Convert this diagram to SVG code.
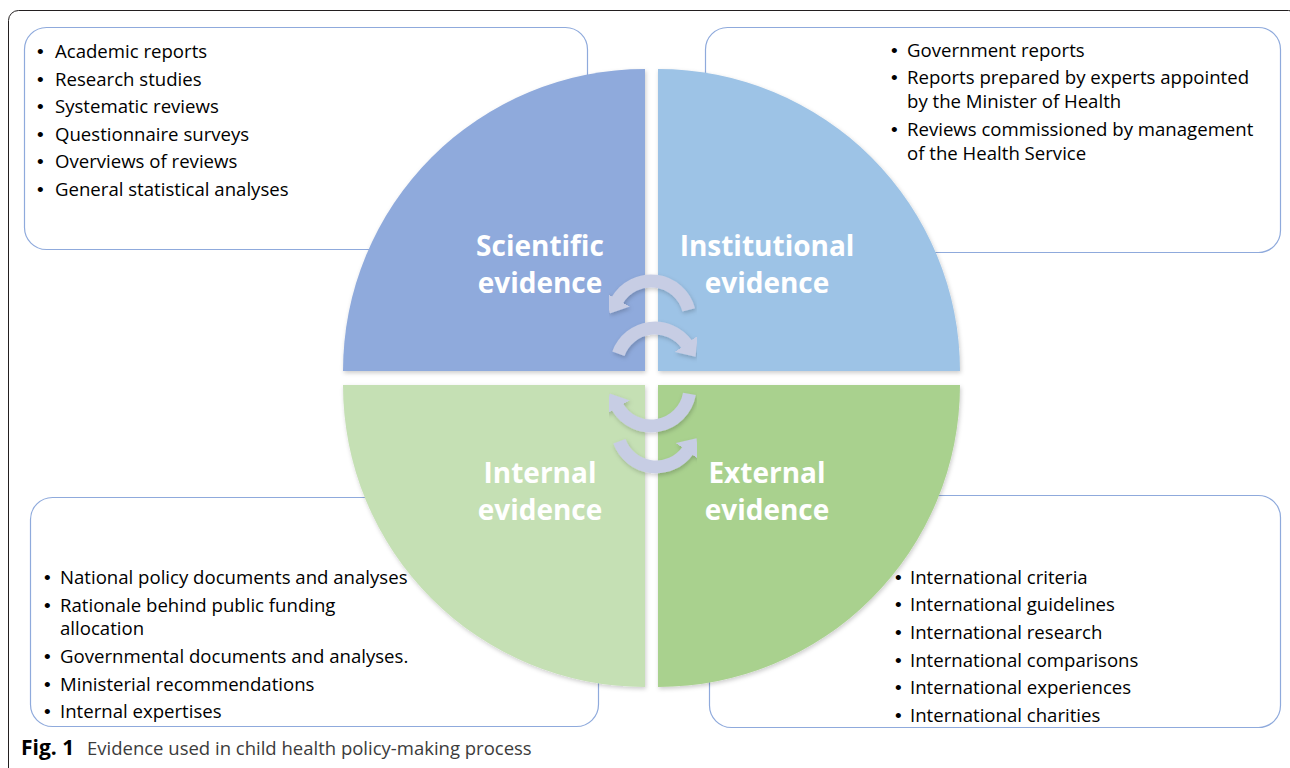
<svg xmlns="http://www.w3.org/2000/svg" width="1290" height="768" viewBox="0 0 1290 768">
<style>
.frame{fill:none;stroke:#231f20;stroke-width:1}
.box{fill:#fff;stroke:#8faadc;stroke-width:1.2}
.txt{font-family:"Open Sans","Liberation Sans",sans-serif;font-size:18.6px;fill:#000}
.bl{font-family:"Liberation Sans",sans-serif;font-size:19px;fill:#000}
.lbl{font-family:"Open Sans","Liberation Sans",sans-serif;font-size:28px;font-weight:bold;fill:#fff;text-anchor:middle}
.cap{font-family:"Open Sans","Liberation Sans",sans-serif;font-size:18.5px;fill:#3c3c3c}
.arc{fill:none;stroke:#c7cde4;stroke-width:13}
</style>
<defs>
<marker id="ah" viewBox="0 0 16 28" refX="1" refY="14" markerWidth="16" markerHeight="28" markerUnits="userSpaceOnUse" orient="auto">
<path d="M0,0 L16,14 L0,28 z" fill="#c7cde4"/>
</marker>
<filter id="sh" x="-10%" y="-10%" width="120%" height="120%">
<feDropShadow dx="1" dy="2" stdDeviation="2" flood-color="#000" flood-opacity="0.2"/>
</filter>
</defs>
<rect class="frame" x="8.5" y="10.5" width="1290" height="780" rx="10"/>

<g id="box-scientific">
<rect class="box" x="24.5" y="27.5" width="563" height="222" rx="22"/>
<text class="bl"><tspan x="37" y="58">•</tspan><tspan x="37" y="86">•</tspan><tspan x="37" y="113">•</tspan><tspan x="37" y="141">•</tspan><tspan x="37" y="168">•</tspan><tspan x="37" y="196">•</tspan></text>
<text class="txt"><tspan x="55" y="58">Academic reports</tspan><tspan x="55" y="86">Research studies</tspan><tspan x="55" y="113">Systematic reviews</tspan><tspan x="55" y="141">Questionnaire surveys</tspan><tspan x="55" y="168">Overviews of reviews</tspan><tspan x="55" y="196">General statistical analyses</tspan></text>
</g>
<g id="box-institutional">
<rect class="box" x="705.5" y="27.5" width="575" height="225" rx="22"/>
<text class="bl"><tspan x="891" y="57">•</tspan><tspan x="891" y="84">•</tspan><tspan x="891" y="136">•</tspan></text>
<text class="txt"><tspan x="907" y="57">Government reports</tspan><tspan x="907" y="84">Reports prepared by experts appointed</tspan><tspan x="907" y="108">by the Minister of Health</tspan><tspan x="907" y="136">Reviews commissioned by management</tspan><tspan x="907" y="160">of the Health Service</tspan></text>
</g>
<g id="box-internal">
<rect class="box" x="30.5" y="497.5" width="568" height="229" rx="22"/>
<text class="bl"><tspan x="44" y="584">•</tspan><tspan x="44" y="612">•</tspan><tspan x="44" y="663">•</tspan><tspan x="44" y="691">•</tspan><tspan x="44" y="718">•</tspan></text>
<text class="txt"><tspan x="60" y="584">National policy documents and analyses</tspan><tspan x="60" y="612">Rationale behind public funding</tspan><tspan x="60" y="635">allocation</tspan><tspan x="60" y="663">Governmental documents and analyses.</tspan><tspan x="60" y="691">Ministerial recommendations</tspan><tspan x="60" y="718">Internal expertises</tspan></text>
</g>
<g id="box-external">
<rect class="box" x="709.5" y="495.5" width="571" height="232" rx="22"/>
<text class="bl"><tspan x="895" y="584">•</tspan><tspan x="895" y="611">•</tspan><tspan x="895" y="639">•</tspan><tspan x="895" y="667">•</tspan><tspan x="895" y="694">•</tspan><tspan x="895" y="722">•</tspan></text>
<text class="txt"><tspan x="910" y="584">International criteria</tspan><tspan x="910" y="611">International guidelines</tspan><tspan x="910" y="639">International research</tspan><tspan x="910" y="667">International comparisons</tspan><tspan x="910" y="694">International experiences</tspan><tspan x="910" y="722">International charities</tspan></text>
</g>

<g id="q-scientific">
<path d="M645,371 L343,371 A302,302 0 0 1 645,69 Z" fill="#8faadc" filter="url(#sh)"/>
<text class="lbl"><tspan x="540" y="256">Scientific</tspan><tspan x="540" y="293">evidence</tspan></text>
</g>
<g id="q-institutional">
<path d="M658,371 L658,69 A302,302 0 0 1 960,371 Z" fill="#9dc3e6" filter="url(#sh)"/>
<text class="lbl"><tspan x="767" y="256">Institutional</tspan><tspan x="767" y="293">evidence</tspan></text>
</g>
<g id="q-internal">
<path d="M645,385 L645,687 A302,302 0 0 1 343,385 Z" fill="#c5e0b4" filter="url(#sh)"/>
<text class="lbl"><tspan x="540" y="483">Internal</tspan><tspan x="540" y="520">evidence</tspan></text>
</g>
<g id="q-external">
<path d="M658,385 L960,385 A302,302 0 0 1 658,687 Z" fill="#a9d18e" filter="url(#sh)"/>
<text class="lbl"><tspan x="767" y="483">External</tspan><tspan x="767" y="520">evidence</tspan></text>
</g>

<g id="connectors" filter="url(#sh)">
<path class="arc" d="M688.7,309.9 A39,39 0 0 0 617.2,300.5" marker-end="url(#ah)"/>
<path class="arc" d="M618.4,353.7 A39,39 0 0 1 686.9,344.6" marker-end="url(#ah)"/>
<path class="arc" d="M689.4,393.8 A39,39 0 0 1 617.2,406.5" marker-end="url(#ah)"/>
<path class="arc" d="M619.4,441.3 A39,39 0 0 0 687.9,450.4" marker-end="url(#ah)"/>
</g>

<text x="21" y="755" class="cap"><tspan font-weight="bold" font-size="21" fill="#000">Fig. 1</tspan><tspan x="87">Evidence used in child health policy-making process</tspan></text>
</svg>
